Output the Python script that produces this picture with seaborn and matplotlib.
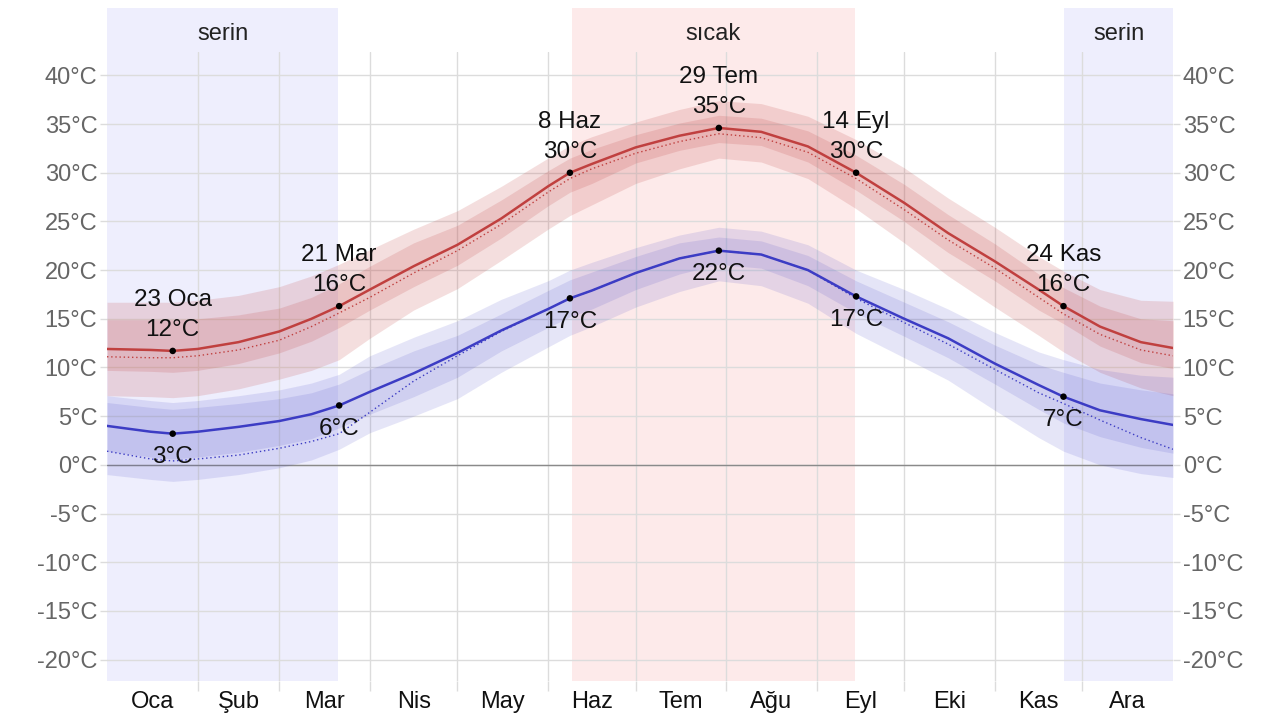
import seaborn as sns
import matplotlib.pyplot as plt

# ========= 数据 =========
# x = 年内天数 (0 = 1 Ocak)
days = [0, 15, 22.5, 31, 45, 59, 70, 79.5, 90, 105, 120, 135, 151, 158.5, 166, 181,
        196, 209.5, 224, 240, 256.5, 273, 288, 304, 319, 327.5, 340, 354, 365]

hi_mean = [11.9, 11.8, 11.7, 11.9, 12.6, 13.7, 15.0, 16.3, 18.0, 20.4, 22.6, 25.3, 28.6, 30.0, 30.9,
           32.6, 33.8, 34.6, 34.2, 32.7, 30.0, 26.9, 23.8, 20.9, 18.0, 16.3, 14.2, 12.6, 12.0]
hi_p90 = [16.7, 16.7, 16.7, 16.9, 17.4, 18.3, 19.4, 20.6, 22.1, 24.2, 26.1, 28.6, 31.5, 32.8, 33.7,
          35.2, 36.5, 37.4, 37.1, 35.8, 33.4, 30.5, 27.4, 24.4, 21.4, 19.9, 18.0, 16.9, 16.8]
hi_p75 = [14.9, 14.9, 14.9, 15.0, 15.4, 16.1, 17.2, 18.6, 20.4, 22.8, 24.6, 27.2, 30.2, 31.5, 32.4,
          33.9, 35.1, 35.9, 35.6, 34.3, 31.8, 28.8, 25.7, 22.7, 19.6, 18.2, 16.3, 15.0, 14.8]
hi_p25 = [9.7, 9.6, 9.5, 9.7, 10.4, 11.5, 12.7, 14.1, 15.9, 18.3, 20.5, 23.3, 26.6, 28.0, 28.9,
          31.0, 32.3, 33.1, 32.8, 31.1, 28.2, 25.0, 21.8, 18.9, 15.9, 14.5, 12.2, 10.5, 9.9]
hi_p10 = [7.1, 7.0, 6.9, 7.1, 7.8, 8.8, 9.7, 10.8, 13.0, 15.9, 18.1, 21.0, 24.2, 25.6, 26.7,
          28.9, 30.4, 31.5, 31.1, 29.4, 26.3, 22.8, 19.4, 16.2, 13.3, 11.6, 9.5, 7.9, 7.1]
hi_feels = [11.1, 11.0, 11.0, 11.2, 11.8, 12.8, 14.2, 15.6, 17.2, 19.7, 22.0, 24.7, 28.0, 29.4, 30.4,
            32.0, 33.2, 34.0, 33.6, 32.1, 29.4, 26.2, 23.1, 20.2, 17.2, 15.5, 13.4, 11.8, 11.2]

lo_mean = [4.0, 3.4, 3.2, 3.4, 3.9, 4.5, 5.2, 6.1, 7.5, 9.4, 11.5, 13.8, 16.0, 17.1, 17.9,
           19.7, 21.2, 22.0, 21.6, 20.0, 17.3, 15.0, 13.0, 10.4, 8.2, 7.0, 5.6, 4.7, 4.1]
lo_p90 = [7.1, 6.6, 6.4, 6.6, 7.1, 7.7, 8.4, 9.3, 11.2, 13.1, 14.8, 17.0, 18.9, 20.0, 20.8,
          22.3, 23.6, 24.4, 24.0, 22.6, 20.0, 18.0, 16.0, 13.6, 11.6, 10.8, 9.8, 9.2, 9.0]
lo_p75 = [6.4, 5.9, 5.7, 5.9, 6.3, 6.8, 7.4, 8.3, 9.8, 11.7, 13.3, 15.5, 17.9, 19.0, 19.8,
          21.4, 22.8, 23.4, 23.0, 21.5, 18.9, 16.7, 14.7, 12.3, 10.3, 9.5, 8.4, 7.7, 7.3]
lo_p25 = [1.4, 0.8, 0.6, 0.8, 1.3, 2.0, 2.7, 3.8, 5.2, 7.0, 9.0, 11.7, 14.1, 15.2, 16.0,
          18.0, 19.6, 20.6, 20.2, 18.4, 15.6, 13.2, 11.0, 8.3, 5.7, 4.3, 2.9, 1.8, 1.2]
lo_p10 = [-1.0, -1.5, -1.7, -1.5, -1.0, -0.3, 0.5, 1.6, 3.3, 5.0, 6.8, 9.5, 12.1, 13.3, 14.2,
          16.2, 17.8, 18.9, 18.4, 16.6, 13.5, 11.0, 8.7, 5.6, 2.8, 1.4, 0.0, -0.9, -1.3]
lo_feels = [1.4, 0.6, 0.4, 0.6, 1.0, 1.7, 2.4, 3.2, 5.4, 8.6, 11.2, 13.7, 16.0, 17.1, 17.9,
            19.7, 21.2, 22.0, 21.6, 20.0, 17.1, 14.6, 12.4, 9.8, 7.4, 6.3, 4.6, 2.8, 1.6]

# 标注点
mark_days = [22.5, 79.5, 158.5, 209.5, 256.5, 327.5]
mark_dates = ["23 Oca", "21 Mar", "8 Haz", "29 Tem", "14 Eyl", "24 Kas"]

# 季节带
seasons = [("serin", 0, 79.1), ("sıcak", 159.2, 256.0), ("serin", 327.7, 365)]
season_colors = {"serin": "#eeeefd", "sıcak": "#fdeaea"}

months = ["Oca", "Şub", "Mar", "Nis", "May", "Haz", "Tem", "Ağu", "Eyl", "Eki", "Kas", "Ara"]
month_starts = [0, 31, 59, 90, 120, 151, 181, 212, 243, 273, 304, 334, 365]
y_ticks = list(range(-20, 45, 5))
# ========================

sns.set_theme(style="white")
plt.rcParams['font.family'] = ['Liberation Sans', 'DejaVu Sans']

RED = "#c0403f"
BLUE = "#3c3cc4"
GRID = "#dcdcdc"
FS = 17

fig = plt.figure(figsize=(12.8, 7.2), dpi=100)
ax = fig.add_axes([107 / 1280, 1 - 681 / 720, 1066 / 1280, 629 / 720])
ax.set_facecolor("white")

# 季节背景
head = (681 - 8) / 629
for name, a, b in seasons:
    ax.axvspan(a, b, ymin=0, ymax=head, color=season_colors[name], zorder=0, clip_on=False, lw=0)
    ax.text((a + b) / 2, (681 - 34) / 629, name, transform=ax.get_xaxis_transform(),
            ha="center", va="center", fontsize=FS, color="#222222")

# 百分位带
ax.fill_between(days, hi_p10, hi_p90, color=RED, alpha=0.17, lw=0, zorder=2)
ax.fill_between(days, hi_p25, hi_p75, color=RED, alpha=0.17, lw=0, zorder=2)
ax.fill_between(days, lo_p10, lo_p90, color=BLUE, alpha=0.13, lw=0, zorder=2)
ax.fill_between(days, lo_p25, lo_p75, color=BLUE, alpha=0.13, lw=0, zorder=2)

# 平均线与体感线
sns.lineplot(x=days, y=hi_mean, ax=ax, color=RED, lw=1.8, sort=False, estimator=None, zorder=3)
sns.lineplot(x=days, y=lo_mean, ax=ax, color=BLUE, lw=1.8, sort=False, estimator=None, zorder=3)
ax.plot(days, hi_feels, color=RED, lw=1, ls=(0, (1, 2)), zorder=3)
ax.plot(days, lo_feels, color=BLUE, lw=1, ls=(0, (1, 2)), zorder=3)

ax.axhline(0, color="#8a8a8a", lw=1, zorder=1)

# 标注
idx = [days.index(d) for d in mark_days]
hi_pts = [hi_mean[i] for i in idx]
lo_pts = [lo_mean[i] for i in idx]
sns.scatterplot(x=mark_days + mark_days, y=hi_pts + lo_pts, ax=ax, color="black",
                s=22, edgecolor="none", zorder=5)
for d, lab, h, l in zip(mark_days, mark_dates, hi_pts, lo_pts):
    ax.annotate(f"{lab}\n{round(h)}°C", (d, h), xytext=(0, 7), textcoords="offset points",
                ha="center", va="bottom", fontsize=FS + 0.5, linespacing=1.5, color="#111111", zorder=6)
    ax.annotate(f"{round(l)}°C", (d, l), xytext=(0, -9), textcoords="offset points",
                ha="center", va="top", fontsize=FS + 0.5, color="#111111", zorder=6)

# 坐标轴
ax.set_xlim(0, 365)
ax.set_ylim(-22.2, 42.4)
ax.set_xticks(month_starts[1:-1])
ax.set_xticklabels([])
ax.set_xticks([(month_starts[i] + month_starts[i + 1]) / 2 for i in range(12)], minor=True)
ax.set_xticklabels(months, minor=True, fontsize=FS, color="#111111")
ax.tick_params(axis="x", which="major", length=7, width=1, color=GRID, direction="out", bottom=True)
ax.tick_params(axis="x", which="minor", length=0, pad=7, bottom=True)

ax.set_yticks(y_ticks)
ax.set_yticklabels([f"{v}°C" for v in y_ticks], fontsize=FS, color="#666666")
ax.tick_params(axis="y", left=True, right=True, labelright=True, length=5, width=1,
               color=GRID, pad=2)

ax.grid(True, which="major", color=GRID, lw=1, zorder=1)
ax.set_axisbelow(True)
for s in ax.spines.values():
    s.set_visible(False)

plt.savefig("out.png", dpi=100)
